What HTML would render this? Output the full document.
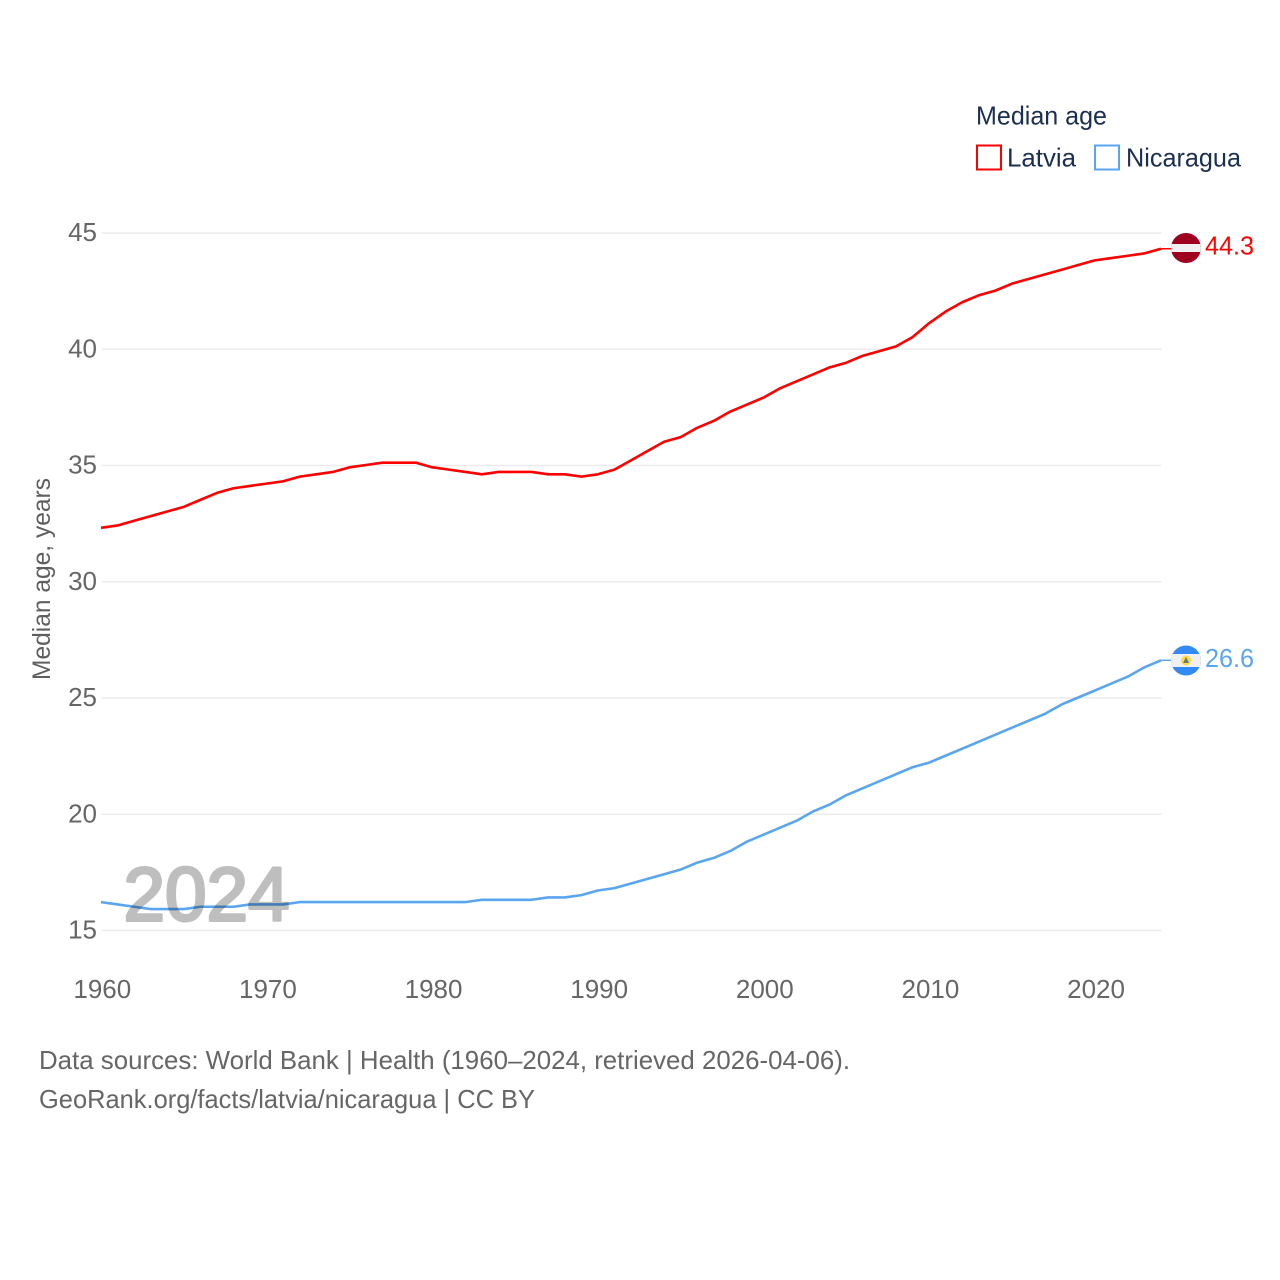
<!DOCTYPE html>
<html lang="en">
<head>
<meta charset="utf-8">
<title>Median age: Latvia and Nicaragua</title>
<style>
html,body{margin:0;padding:0;background:#fff}
svg{display:block}
text{font-family:"Liberation Sans",sans-serif}
</style>
</head>
<body>
<svg id="chart" width="1280" height="1280" viewBox="0 0 1280 1280" xmlns="http://www.w3.org/2000/svg">
  <defs>
    <clipPath id="clip-lv"><circle cx="1186" cy="248" r="15"/></clipPath>
    <clipPath id="clip-ni"><circle cx="1186" cy="660.5" r="15"/></clipPath>
  </defs>
  <rect width="1280" height="1280" fill="#fff"/>
  <g id="grid"></g>
  <g id="yticks"></g>
  <g id="xticks"></g>
  <text transform="translate(50,680) rotate(-90)" font-size="25" fill="#5f5f5f" textLength="202" lengthAdjust="spacingAndGlyphs">Median age, years</text>
  <g id="series" transform="translate(-0.5,-0.5)"></g>
  <text x="123.500" y="920.500" font-size="76" fill="#000" stroke="#000" stroke-width="3" stroke-linejoin="round" opacity="0.25" textLength="166" lengthAdjust="spacingAndGlyphs">2024</text>

  <g clip-path="url(#clip-lv)">
    <rect x="1171" y="233" width="30" height="30" fill="#a0001f"/>
    <rect x="1171" y="244" width="30" height="8" fill="#f0f0f0"/>
  </g>
  <g clip-path="url(#clip-ni)">
    <rect x="1171" y="645" width="30" height="31" fill="#338af3"/>
    <rect x="1171" y="654" width="30" height="13" fill="#f0f0f0"/>
    <circle cx="1186" cy="660.5" r="5" fill="#ffda44"/>
    <path d="M1183 663 L1186 657 L1189 663 Z" fill="#5f7d8c"/>
  </g>
  <text id="value-latvia" x="1205" y="254.500" font-size="26" fill="#ff0000" textLength="49" lengthAdjust="spacingAndGlyphs"></text>
  <text id="value-nicaragua" x="1205" y="667" font-size="26" fill="#5aa5f0" textLength="49" lengthAdjust="spacingAndGlyphs"></text>

  <g>
    <text x="976" y="124.500" font-size="26" fill="#1b2f50" textLength="131" lengthAdjust="spacingAndGlyphs">Median age</text>
    <g>
      <rect x="977" y="145.500" width="24" height="24" fill="none" stroke="#ff0000" stroke-width="2"/>
      <text x="1007" y="166.500" font-size="26" fill="#1b2f50" textLength="69" lengthAdjust="spacingAndGlyphs">Latvia</text>
    </g>
    <g>
      <rect x="1095" y="145.500" width="24" height="24" fill="none" stroke="#5aa5f0" stroke-width="2"/>
      <text x="1126" y="166.500" font-size="26" fill="#1b2f50" textLength="115" lengthAdjust="spacingAndGlyphs">Nicaragua</text>
    </g>
  </g>

  <text x="39" y="1069" font-size="26" fill="#666" textLength="811" lengthAdjust="spacingAndGlyphs">Data sources: World Bank | Health (1960–2024, retrieved 2026-04-06).</text>
  <text x="39" y="1108" font-size="26" fill="#666" textLength="496" lengthAdjust="spacingAndGlyphs">GeoRank.org/facts/latvia/nicaragua | CC BY</text>
</svg>
<script>
const startYear = 1960;
const yTickValues = [15, 20, 25, 30, 35, 40, 45];
const xTickValues = [1960, 1970, 1980, 1990, 2000, 2010, 2020];
const latviaValues = [32.3,32.4,32.6,32.8,33.0,33.2,33.5,33.8,34.0,34.1,34.2,34.3,34.5,34.6,34.7,34.9,35.0,35.1,35.1,35.1,34.9,34.8,34.7,34.6,34.7,34.7,34.7,34.6,34.6,34.5,34.6,34.8,35.2,35.6,36.0,36.2,36.6,36.9,37.3,37.6,37.9,38.3,38.6,38.9,39.2,39.4,39.7,39.9,40.1,40.5,41.1,41.6,42.0,42.3,42.5,42.8,43.0,43.2,43.4,43.6,43.8,43.9,44.0,44.1,44.3];
const nicaraguaValues = [16.2,16.1,16.0,15.9,15.9,15.9,16.0,16.0,16.0,16.1,16.1,16.1,16.2,16.2,16.2,16.2,16.2,16.2,16.2,16.2,16.2,16.2,16.2,16.3,16.3,16.3,16.3,16.4,16.4,16.5,16.7,16.8,17.0,17.2,17.4,17.6,17.9,18.1,18.4,18.8,19.1,19.4,19.7,20.1,20.4,20.8,21.1,21.4,21.7,22.0,22.2,22.5,22.8,23.1,23.4,23.7,24.0,24.3,24.7,25.0,25.3,25.6,25.9,26.3,26.6];

const NS = 'http://www.w3.org/2000/svg';
const xScale = function (year) { return 101.5 + (year - 1960) * (1161.5 - 101.5) / 64; };
const yScale = function (v) { return 930.5 - (v - 15) * (930.5 - 233) / 30; };

function make(tag, attrs, parent, text) {
  const el = document.createElementNS(NS, tag);
  Object.keys(attrs).forEach(function (k) { el.setAttribute(k, attrs[k]); });
  if (text !== undefined) el.textContent = text;
  parent.appendChild(el);
  return el;
}

const grid = document.getElementById('grid');
const yticks = document.getElementById('yticks');
const xticks = document.getElementById('xticks');
const series = document.getElementById('series');

yTickValues.forEach(function (v) {
  const line = make('line', { x1: xScale(1960), x2: xScale(2024), y1: yScale(v), y2: yScale(v), stroke: '#ececec', 'stroke-width': 1.5 }, grid);
  
  
  const label = make('text', { x: 97, y: yScale(v) + 8, 'text-anchor': 'end', 'font-size': 26, fill: '#666' }, yticks, String(v));
  
  
});

xTickValues.forEach(function (year) {
  const label = make('text', { x: xScale(year) + 0.8, y: 998, 'text-anchor': 'middle', 'font-size': 26, fill: '#666' }, xticks, String(year));
  
  
});

function drawSeries(values, color, name) {
  const pts = values.map(function (v, i) {
    return xScale(startYear + i).toFixed(2) + ',' + yScale(v).toFixed(2);
  }).join(' ');
  const line = make('polyline', { points: pts, fill: 'none', stroke: color, 'stroke-width': 2.6, 'stroke-linejoin': 'round' }, series);
  
  
  const lastX = xScale(startYear + values.length - 1);
  const lastY = yScale(values[values.length - 1]);
  const connector = make('line', { x1: lastX, x2: lastX + 12, y1: lastY, y2: lastY, stroke: color, 'stroke-width': 1.5 }, series);
  
  
}

drawSeries(latviaValues, '#ff0000', 'latvia');
drawSeries(nicaraguaValues, '#5aa5f0', 'nicaragua');

document.getElementById('value-latvia').textContent = latviaValues[latviaValues.length - 1].toFixed(1);
document.getElementById('value-nicaragua').textContent = nicaraguaValues[nicaraguaValues.length - 1].toFixed(1);
</script>
</body>
</html>
